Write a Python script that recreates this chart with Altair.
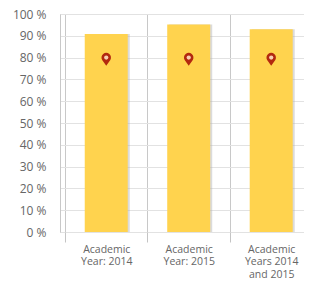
import altair as alt
import pandas as pd

categories = [["Academic", "Year: 2014"], ["Academic", "Year: 2015"], ["Academic", "Years 2014", "and 2015"]]
bar_values = [90.8, 95.2, 93.0]
marker_values = [80, 80, 80]
y_ticks = [0, 10, 20, 30, 40, 50, 60, 70, 80, 90, 100]

idx = list(range(len(categories)))
df = pd.DataFrame({"idx": idx, "value": bar_values, "marker": marker_values})

# label expression for category labels
parts = []
for i, c in enumerate(categories):
    arr = "[" + ",".join("'" + s + "'" for s in c) + "]"
    parts.append(f"datum.value == {i} ? {arr} : ")
label_expr = "".join(parts) + "''"

FONT = "Open Sans"

x_axis = alt.Axis(
    values=[-0.5, 0, 0.5, 1, 1.5, 2],
    labelExpr=label_expr,
    labelOverlap=False,
    labelFlush=False,
    labelBound=False,
    labelFont=FONT,
    labelFontSize=10.5,
    labelColor="#666666",
    labelLineHeight=12.5,
    labelPadding=2,
    labelBaseline="top",
    tickSize=10,
    tickColor="#c4c4c4",
    tickOpacity={"condition": {"test": "datum.value % 1 != 0", "value": 1}, "value": 0},
    grid=True,
    gridColor="#c8c8c8",
    gridOpacity={"condition": {"test": "datum.value % 1 != 0", "value": 1}, "value": 0},
    domain=False,
    title=None,
)

y_axis = alt.Axis(
    values=y_ticks,
    labelExpr="datum.value + ' %'",
    labelOverlap=False,
    labelFont=FONT,
    labelFontSize=12,
    labelColor="#666666",
    labelPadding=14,
    ticks=False,
    grid=True,
    gridColor="#e2e2e2",
    domain=True,
    domainColor="#c8c8c8",
    title=None,
)

x_enc = alt.X("idx:Q", scale=alt.Scale(domain=[-0.5, 2.337], nice=False, zero=False), axis=x_axis)
y_scale = alt.Scale(domain=[0, 100], nice=False)

base = alt.Chart(df)

shadow = base.mark_bar(color="#b0b0b0", opacity=0.45, size=43, xOffset=2).encode(
    x=x_enc, y=alt.Y("value:Q", scale=y_scale, axis=y_axis)
)
bars = base.mark_bar(color="#FFD34E", size=43).encode(
    x=x_enc, y=alt.Y("value:Q", scale=y_scale, axis=y_axis)
)
pin_path = "M0,1.7 L-0.86,0.5 A1,1 0 1,1 0.86,0.5 Z"
pins = base.mark_point(shape=pin_path, filled=True, color="#B3280F", size=90, opacity=1).encode(
    x=x_enc, y=alt.Y("marker:Q", scale=y_scale, axis=y_axis)
)
pin_inner = base.mark_point(shape="circle", filled=True, color="#F8CFB0", size=18, opacity=1).encode(
    x=x_enc, y=alt.Y("marker:Q", scale=y_scale, axis=y_axis)
)

chart = alt.layer(shadow, bars, pins, pin_inner).properties(
    width=244,
    height=218,
    autosize=alt.AutoSizeParams(type="none"),
    padding={"left": 52, "top": 6, "right": 0, "bottom": 48},
).configure_view(stroke=None).configure(background="white")

chart.save("out.html", embed_options={"renderer": "svg", "actions": False})
